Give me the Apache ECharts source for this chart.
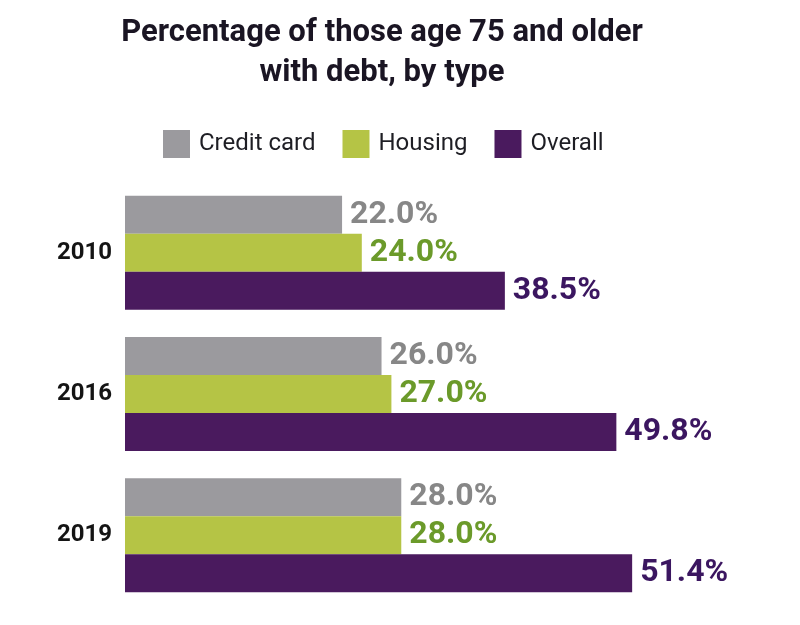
<!DOCTYPE html>
<html>
<head>
<meta charset="utf-8">
<script src="https://cdn.jsdelivr.net/npm/echarts@6/dist/echarts.min.js"></script>
<style>
html, body { margin: 0; padding: 0; background: #ffffff; }
#main { width: 800px; height: 625px; }
</style>
</head>
<body>
<div id="main"></div>
<script>
// data
let years = ["2010", "2016", "2019"];
let seriesNames = ["Credit card", "Housing", "Overall"];
let creditCard = [22.0, 26.0, 28.0];
let housing = [24.0, 27.0, 28.0];
let overall = [38.5, 49.8, 51.4];

let barColors = ["#9b9a9e", "#b5c445", "#4a1a5e"];
let labelColors = ["#878787", "#6b9a2a", "#3b1660"];
let fontFam = "Roboto, 'Noto Sans', sans-serif";

function makeSeries(name, values, idx) {
    return {
        name: name,
        type: 'bar',
        data: values,
        barWidth: 38,
        barGap: '0%',
        itemStyle: { color: barColors[idx] },
        label: {
            show: true,
            position: 'right',
            distance: 8,
            color: labelColors[idx],
            fontFamily: fontFam,
            fontWeight: 'bold',
            fontSize: 32,
            formatter: function (p) { return p.value.toFixed(1) + '%'; }
        }
    };
}

let chart = echarts.init(document.getElementById('main'));
let option = {
    backgroundColor: '#ffffff',
    animation: false,
    title: {
        text: 'Percentage of those age 75 and older\nwith debt, by type',
        left: 377,
        top: 8,
        textAlign: 'center',
        textStyle: {
            fontFamily: fontFam,
            fontWeight: 'bold',
            fontSize: 31,
            lineHeight: 40,
            color: '#1a1523'
        }
    },
    legend: {
        data: seriesNames,
        left: 158,
        top: 125,
        icon: 'rect',
        itemWidth: 27,
        itemHeight: 28,
        itemGap: 27,
        textStyle: {
            fontFamily: fontFam,
            fontSize: 24,
            color: '#1e1e24',
            padding: [0, 0, 0, 4]
        }
    },
    grid: {
        left: 125,
        right: 83,
        top: 182,
        bottom: 19,
        containLabel: false
    },
    xAxis: {
        type: 'value',
        min: 0,
        max: 60,
        show: false
    },
    yAxis: {
        type: 'category',
        data: years,
        inverse: true,
        axisLine: { show: false },
        axisTick: { show: false },
        axisLabel: {
            margin: 13,
            fontFamily: fontFam,
            fontWeight: 'bold',
            fontSize: 24,
            color: '#141414'
        }
    },
    series: [
        makeSeries(seriesNames[0], creditCard, 0),
        makeSeries(seriesNames[1], housing, 1),
        makeSeries(seriesNames[2], overall, 2)
    ]
};
chart.setOption(option);
</script>
</body>
</html>
